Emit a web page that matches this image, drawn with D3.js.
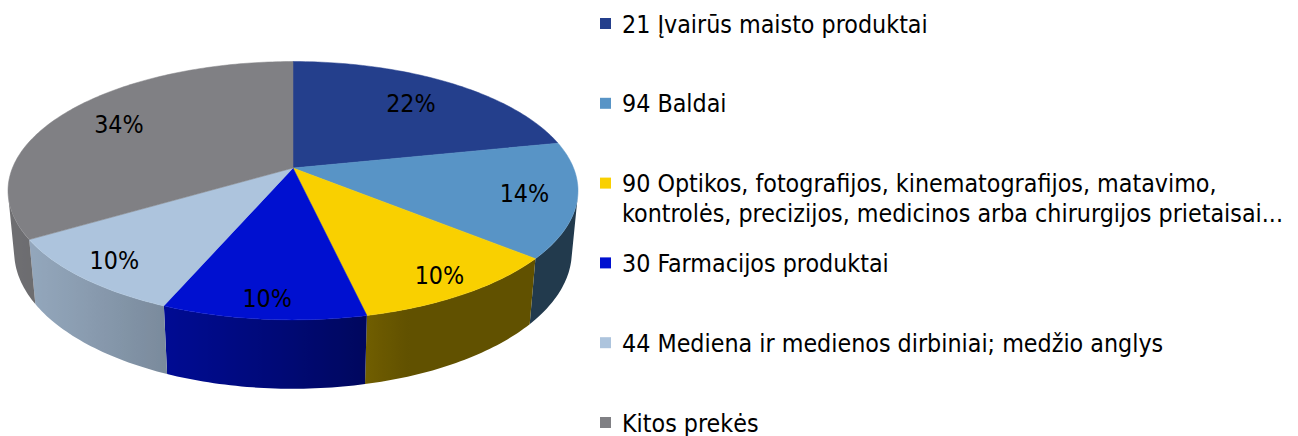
<!DOCTYPE html>
<html>
<head>
<meta charset="utf-8">
<script src="https://cdn.jsdelivr.net/npm/d3@7/dist/d3.min.js"></script>
<style>
  html, body { margin: 0; padding: 0; background: #ffffff; }
  svg { display: block; }
  text { font-family: "DejaVu Sans Condensed", "DejaVu Sans", sans-serif; fill: #000; }
</style>
</head>
<body>
<svg id="chart" width="1298" height="436"></svg>
<script>
// ---- data ----
const categories = [
  "21 Įvairūs maisto produktai",
  "94 Baldai",
  "90 Optikos, fotografijos, kinematografijos, matavimo, kontrolės, precizijos, medicinos arba chirurgijos prietaisai...",
  "30 Farmacijos produktai",
  "44 Mediena ir medienos dirbiniai; medžio anglys",
  "Kitos prekės"
];
const values = [21.7, 14.4, 10.4, 9.8, 10.0, 33.7];
const labels = ["22%", "14%", "10%", "10%", "10%", "34%"];
const colors = ["#243F8C", "#5894C6", "#F9D000", "#0010D0", "#ADC4DD", "#808084"];

// ---- layout / 3D projection ----
const svg = d3.select("#chart");
const defs = svg.append("defs");
const cx = 293, cy = 168;
const phi = 26.5 * Math.PI / 180, cs = Math.cos(phi), sn = Math.sin(phi);
const D = 5.09, F = 1428, T = 0.245;

function proj(a, r, z) {
  const x = r * Math.sin(a), y = -r * Math.cos(a);
  const depth = D - y * cs - z * sn;
  return [cx + F * x / depth, cy - F * (-y * sn + z * cs) / depth];
}

const pie = d3.pie().sort(null).value(d => d);
const arcs = pie(values);
const colorScale = d3.scaleOrdinal().domain(d3.range(values.length)).range(colors);

// side shading
const Lx = -0.94, Ly = 0.34;
function shade(col, a) {
  const nx = Math.sin(a), ny = -Math.cos(a);
  const dot = Math.max(0, nx * Lx + ny * Ly);
  const f = 0.39 + 0.47 * dot;
  const c = d3.rgb(col);
  return d3.rgb(c.r * f, c.g * f, c.b * f).formatHex();
}
const visMin = Math.acos(-1 / (D * cs)) ; // about 102.7 deg
const visMax = 2 * Math.PI - visMin;

const sideG = svg.append("g");
arcs.forEach((d, i) => {
  const a0 = Math.max(d.startAngle, visMin), a1 = Math.min(d.endAngle, visMax);
  if (a1 <= a0) return;
  const n = Math.max(2, Math.ceil((a1 - a0) / (Math.PI / 180)));
  const topPts = [], botPts = [], angs = [];
  for (let k = 0; k <= n; k++) {
    const a = a0 + (a1 - a0) * k / n;
    angs.push(a);
    topPts.push(proj(a, 1, 0));
    botPts.push(proj(a, 1, -T));
  }
  const xs = topPts.map(p => p[0]);
  const xA = xs[0], xB = xs[xs.length - 1];
  const gid = "side" + i;
  const g = defs.append("linearGradient").attr("id", gid)
    .attr("gradientUnits", "userSpaceOnUse")
    .attr("x1", xA).attr("y1", 0).attr("x2", xB).attr("y2", 0);
  angs.forEach((a, k) => {
    const off = Math.abs(xB - xA) < 1e-6 ? 0 : (xs[k] - xA) / (xB - xA);
    g.append("stop").attr("offset", Math.min(1, Math.max(0, off)))
      .attr("stop-color", shade(colorScale(i), a));
  });
  const pts = topPts.concat(botPts.slice().reverse());
  sideG.append("path")
    .attr("d", "M" + pts.map(p => p.join(",")).join("L") + "Z")
    .attr("fill", "url(#" + gid + ")");
});

// top faces
const topG = svg.append("g");
arcs.forEach((d, i) => {
  const n = Math.max(2, Math.ceil((d.endAngle - d.startAngle) / (Math.PI / 180)));
  const pts = [proj(0, 0, 0)];
  for (let k = 0; k <= n; k++) {
    const a = d.startAngle + (d.endAngle - d.startAngle) * k / n;
    pts.push(proj(a, 1, 0));
  }
  topG.append("path")
    .attr("d", "M" + pts.map(p => p.join(",")).join("L") + "Z")
    .attr("fill", colorScale(i)).attr("stroke", colorScale(i)).attr("stroke-width", 0.5)
    .attr("stroke-linejoin", "round");
});

// measure font size to match legend width
const probe = svg.append("text").attr("font-size", 22).text(categories[0]);
const w0 = probe.node().getComputedTextLength();
probe.remove();
const fs = 22 * 306 / w0;

// data labels
const labG = svg.append("g");
arcs.forEach((d, i) => {
  const mid = (d.startAngle + d.endAngle) / 2;
  const k = 0.8 - 0.085 * Math.cos(mid);
  const p = proj(mid, k, 0);
  labG.append("text")
    .attr("x", p[0]).attr("y", p[1])
    .attr("text-anchor", "middle").attr("dominant-baseline", "central")
    .attr("font-size", fs).text(labels[i]);
});

// legend
const legX = 600, legTextX = 622, legY0 = 23.5, rowH = 79.8, lineH = 30, maxW = 670;
const legG = svg.append("g");
categories.forEach((name, i) => {
  const y = legY0 + i * rowH;
  legG.append("rect").attr("x", legX).attr("y", y - 5.5).attr("width", 11).attr("height", 11)
    .attr("fill", colorScale(i));
  const t = legG.append("text").attr("x", legTextX).attr("y", y)
    .attr("dominant-baseline", "central").attr("font-size", fs);
  const words = name.split(" ");
  let line = [], lineNo = 0;
  let ts = t.append("tspan").attr("x", legTextX).attr("y", y);
  words.forEach(wd => {
    line.push(wd);
    ts.text(line.join(" "));
    if (ts.node().getComputedTextLength() > maxW && line.length > 1) {
      line.pop();
      ts.text(line.join(" "));
      line = [wd];
      lineNo++;
      ts = t.append("tspan").attr("x", legTextX).attr("y", y + lineNo * lineH).text(wd);
    }
  });
});
</script>
</body>
</html>
